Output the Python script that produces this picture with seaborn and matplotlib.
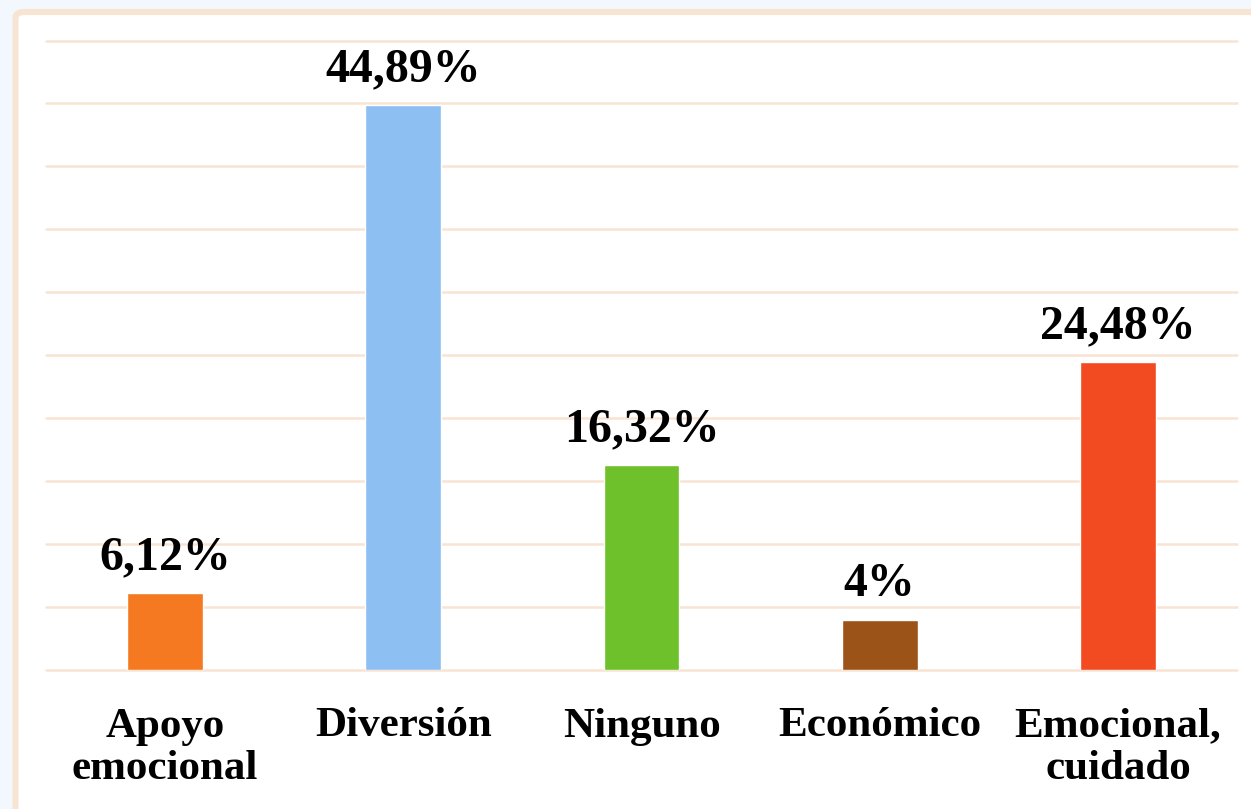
import matplotlib.pyplot as plt
import seaborn as sns
import pandas as pd
from matplotlib.patches import FancyBboxPatch

categorias = ['Apoyo\nemocional', 'Diversión', 'Ninguno', 'Económico', 'Emocional,\ncuidado']
valores = [6.12, 44.89, 16.32, 4.0, 24.48]
etiquetas = ['6,12%', '44,89%', '16,32%', '4%', '24,48%']
colores = ['#F47920', '#8DBFF2', '#6EC12A', '#9C5317', '#F24A21']

df = pd.DataFrame({'categoria': categorias, 'valor': valores})

sns.set_theme(style="white")
plt.rcParams['font.family'] = ['Liberation Serif', 'DejaVu Serif']

fig = plt.figure(figsize=(12.51, 8.09), dpi=100)
fig.patch.set_facecolor('#F2F8FD')

# marco exterior
marco = FancyBboxPatch((15.5 / 1251, -10 / 809), 1.1, (809 - 12 + 10) / 809,
                       boxstyle="round,pad=0,rounding_size=0.007",
                       transform=fig.transFigure, facecolor='white',
                       edgecolor='#F8E4D3', linewidth=4.4, zorder=-1)
fig.patches.append(marco)

ax = fig.add_axes([46 / 1251, (809 - 670) / 809, (1237 - 46) / 1251, (670 - 40.5) / 809])
ax.set_facecolor('none')

sns.barplot(data=df, x='categoria', y='valor', hue='categoria', palette=colores,
            saturation=1, width=0.318, legend=False, ax=ax, zorder=3)

ax.set_ylim(0, 50)
ax.set_yticks(range(0, 51, 5))
ax.yaxis.grid(True, color='#F8E4D3', linewidth=1.8)
for gl in ax.get_ygridlines():
    gl.set_clip_on(False)
ax.set_axisbelow(True)
ax.set_yticklabels([])
ax.tick_params(axis='y', length=0)
ax.tick_params(axis='x', length=0, pad=27)
for s in ax.spines.values():
    s.set_visible(False)

for lbl in ax.get_xticklabels():
    lbl.set_fontsize(31)
    lbl.set_fontweight('bold')
    lbl.set_color('black')
    lbl.set_linespacing(1.17)
    lbl.set_verticalalignment('top')

ax.set_xlabel('')
ax.set_ylabel('')

for i, (v, t) in enumerate(zip(valores, etiquetas)):
    ax.text(i, v + 1.05, t, ha='center', va='bottom', fontsize=34.5,
            fontweight='bold', color='black')

fig.savefig('out.png', dpi=100, facecolor=fig.get_facecolor())
